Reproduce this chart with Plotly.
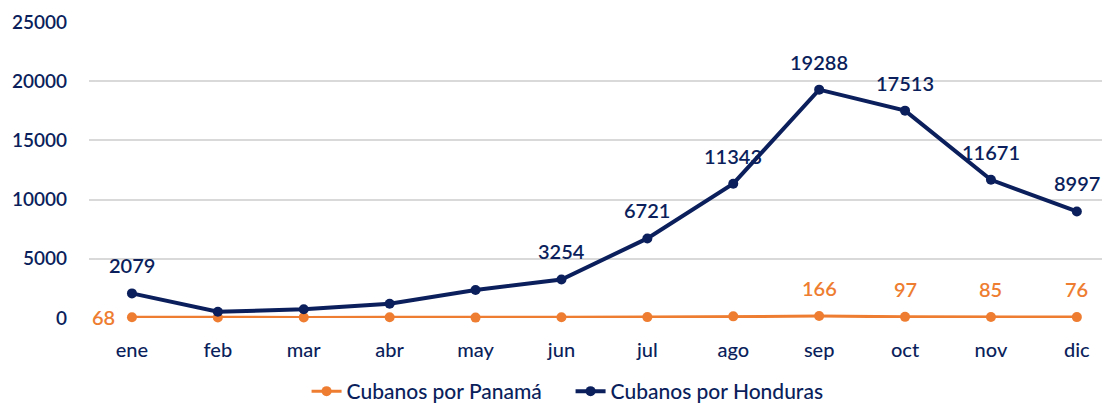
import plotly.graph_objects as go

meses = ["ene", "feb", "mar", "abr", "may", "jun", "jul", "ago", "sep", "oct", "nov", "dic"]
panama = [68, 45, 50, 70, 35, 60, 75, 140, 166, 97, 85, 76]
honduras = [2079, 530, 735, 1210, 2365, 3254, 6721, 11343, 19288, 17513, 11671, 8997]
panama_labels = ["68", "", "", "", "", "", "", "", "166", "97", "85", "76"]
honduras_labels = ["2079", "", "", "", "", "3254", "6721", "11343", "19288", "17513", "11671", "8997"]

NAVY = "#0B1F5C"
ORANGE = "#EE7D31"
FONT = "Lato"
W = 600
FS = 19

fig = go.Figure()
fig.add_trace(go.Scatter(
    x=meses, y=panama, name="Cubanos por Panamá", mode="lines+markers",
    line=dict(color=ORANGE, width=3), marker=dict(color=ORANGE, size=10),
    cliponaxis=False,
))
fig.add_trace(go.Scatter(
    x=meses, y=honduras, name="Cubanos por Honduras", mode="lines+markers",
    line=dict(color=NAVY, width=4), marker=dict(color=NAVY, size=10),
    cliponaxis=False,
))

# data labels as annotations anchored to the data
for m, v, t in zip(meses, panama, panama_labels):
    if not t:
        continue
    if m == "ene":
        fig.add_annotation(x=m, y=v, text=t, showarrow=False, xanchor="right", yanchor="middle",
                           xshift=-15, font=dict(color=ORANGE, size=FS + 1, family=FONT, weight=W))
    else:
        fig.add_annotation(x=m, y=v, text=t, showarrow=False, xanchor="center", yanchor="middle",
                           yshift=28, font=dict(color=ORANGE, size=FS + 1, family=FONT, weight=W))
for m, v, t in zip(meses, honduras, honduras_labels):
    if t:
        fig.add_annotation(x=m, y=v, text=t, showarrow=False, xanchor="center", yanchor="middle",
                           yshift=28, font=dict(color=NAVY, size=FS + 1, family=FONT, weight=W))

fig.update_layout(
    width=1110, height=404,
    margin=dict(l=81, r=0, t=14, b=94, autoexpand=False),
    paper_bgcolor="white", plot_bgcolor="white",
    font=dict(family=FONT, color=NAVY, size=FS, weight=W),
    showlegend=True,
    legend=dict(orientation="h", x=0.468, xanchor="center", yref="container", y=-0.005, yanchor="bottom",
                font=dict(size=21, color=NAVY, family=FONT, weight=500), tracegroupgap=0,
                entrywidth=219, entrywidthmode="pixels"),
    xaxis=dict(range=[-0.5, 11.479], showgrid=False, zeroline=False, showline=False, automargin=False,
               ticks="", ticklabelstandoff=18, tickfont=dict(size=FS + 1, color=NAVY, family=FONT, weight=500)),
    yaxis=dict(range=[0, 25000], dtick=5000, showgrid=True, gridcolor="#D9D9D9", gridwidth=1.5,
               zeroline=False, showline=False, ticks="", ticklabelstandoff=21, automargin=False,
               tickfont=dict(size=FS, color=NAVY, family=FONT, weight=W), tickformat="d"),
)

fig.write_html("out.html")
